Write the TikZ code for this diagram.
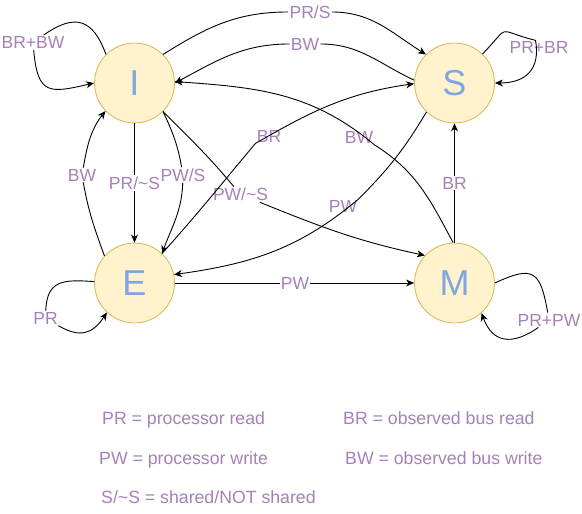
\documentclass[tikz,border=0pt]{standalone}
\usepackage{fontspec}
\setmainfont{Liberation Sans}
\usetikzlibrary{arrows.meta}
\definecolor{statefill}{HTML}{FFF2CC}
\definecolor{stateline}{HTML}{D6B656}
\definecolor{stateblue}{HTML}{7EA6E0}
\definecolor{lblpurple}{HTML}{A680B8}

\begin{document}
\begin{tikzpicture}[x=1pt,y=1pt,
    >={Stealth[length=8pt,width=7pt,inset=2.5pt]},
    state/.style={circle,draw=stateline,fill=statefill,line width=0.8pt,minimum size=80pt,inner sep=0pt,text=stateblue,font=\fontsize{36}{36}\selectfont},
    lbl/.style={fill=white,text=lblpurple,inner sep=1.2pt,font=\fontsize{17.5}{18}\selectfont},
    legend/.style={anchor=base west,text=lblpurple,inner sep=0pt,font=\fontsize{17.7}{18}\selectfont},
    trans/.style={->,line width=0.9pt}]
    \useasboundingbox (0,0) rectangle (582,514); % page
    \foreach \n/\x/\y in {I/134.5/431, S/454.5/431, E/134.5/231, M/454.5/231}
        \node[state] (\n) at (\x,\y) {\n}; % states
    % transition labels
    \node[lbl] (prs) at (310,502) {PR/S};
    \node[lbl] (bwSI) at (305,470) {BW};
    \node[lbl] (brbw) at (33,471.5) {BR+BW};
    \node[lbl] (prbr) at (539,466.2) {PR+BR};
    \node[lbl] (prns) at (134.5,331) {PR/\textasciitilde S};
    \node[lbl] (pws) at (183,339) {PW/S};
    \node[lbl] (bwEI) at (82,339) {BW};
    \node[lbl] (brES) at (269,378) {BR};
    \node[lbl] (pwns) at (240.5,319.5) {PW/\textasciitilde S};
    \node[lbl] (bwMI) at (359,376.5) {BW};
    \node[lbl] (pwSE) at (343,307.5) {PW};
    \node[lbl] (brMS) at (454.5,331) {BR};
    \node[lbl] (pwEM) at (295,231) {PW};
    \node[lbl] (prE) at (45.5,195.7) {PR};
    \node[lbl] (prpw) at (549,194) {PR+PW};
    % transitions
    \draw[trans] (I.45) to[out=32,in=180] (prs) to[out=0,in=148] (S.135); % I -> S
    \draw[trans] (S.176) to[out=155,in=0] (bwSI) to[out=180,in=28] (I.0); % S -> I
    \draw[trans] (I.135) to[out=110,in=35,looseness=1.5] (brbw) to[out=-85,in=193,looseness=1.7] (I.180); % I -> I
    \draw[trans] (S.46) to[out=46,in=166,looseness=2] (prbr.115) to[out=-80,in=0,looseness=1.3] (S.0); % S -> S
    \draw[trans] (I) -- (prns) -- (E); % I -> E
    \draw[trans] (I.315) to[out=-65,in=100] (pws) to[out=-92,in=70] (E.47); % I -> E
    \draw[trans] (E.138) to[out=110,in=-80] (bwEI) to[out=80,in=232] (I.224); % E -> I
    \draw[trans] (I.315) to[out=-45,in=130] (pwns) to[out=-22,in=168] (M.137); % I -> M
    \draw[trans] (E.47) to[out=48,in=230] (brES.south west) to[out=30,in=188] (S.181); % E -> S
    \draw[trans] (M) -- (brMS) -- (S); % M -> S
    \draw[trans] (M.92) to[out=118,in=-32] (bwMI.south east) to[out=140,in=-4] (I.2); % M -> I
    \draw[trans] (E) -- (pwEM) -- (M); % E -> M
    \draw[trans] (S.226) to[out=239,in=45] (pwSE.north east) to[out=220,in=8] (E.12); % S -> E
    \draw[trans] (E.178) to[out=176,in=88,looseness=1.4] (prE) to[out=-30,in=236,looseness=1.3] (E.227); % E -> E
    \draw[trans] (M.0) to[out=25,in=100,looseness=1.8] (prpw) to[out=215,in=-70,looseness=1.4] (M.312); % M -> M
    % legend
    \node[legend] (lpr) at (102,89.5) {PR = processor read};
    \node[legend] (lbr) at (343,89.5) {BR = observed bus read};
    \node[legend] (lpw) at (99,49.7) {PW = processor write};
    \node[legend] (lbw) at (345,49.7) {BW = observed bus write};
    \node[legend] (lsh) at (101,10) {S/\textasciitilde S = shared/NOT shared};
\end{tikzpicture}
\end{document}
